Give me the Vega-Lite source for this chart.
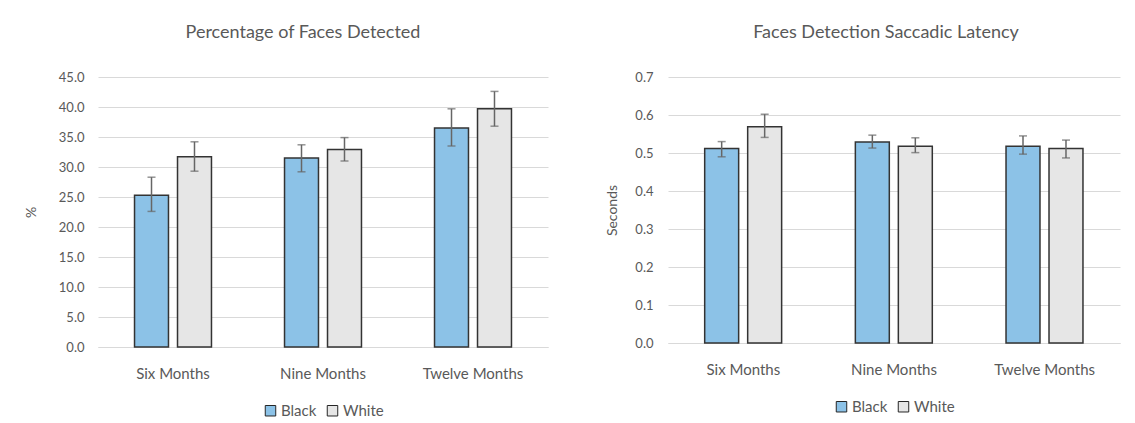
{
  "$schema": "https://vega.github.io/schema/vega-lite/v6.json",
  "padding": {"left": 24, "top": 24, "right": 5, "bottom": 5},
  "background": "white",
  "spacing": 57,
  "config": {
    "font": "Lato",
    "view": {"stroke": null},
    "title": {"fontSize": 18, "fontWeight": "normal", "color": "#595959", "font": "Lato", "offset": 29},
    "axis": {"labelColor": "#595959", "titleColor": "#595959", "labelFontSize": 13, "titleFontSize": 14, "titleFontWeight": "normal", "gridColor": "#d9d9d9", "domainColor": "#d9d9d9", "ticks": false},
    "legend": {"labelColor": "#595959", "labelFontSize": 15, "symbolType": "square", "symbolSize": 110, "symbolStrokeColor": "#262626", "symbolStrokeWidth": 1, "orient": "bottom", "direction": "horizontal", "title": null, "columnPadding": 8, "labelOffset": 3, "offset": 22, "layout": {"bottom": {"anchor": "middle"}}}
  },
  "datasets": {
    "pct": [
      {"group": "Six Months", "race": "Black", "value": 25.3, "lo": 22.6, "hi": 28.3},
      {"group": "Six Months", "race": "White", "value": 31.7, "lo": 29.3, "hi": 34.2},
      {"group": "Nine Months", "race": "Black", "value": 31.5, "lo": 29.2, "hi": 33.7},
      {"group": "Nine Months", "race": "White", "value": 32.9, "lo": 31.0, "hi": 34.9},
      {"group": "Twelve Months", "race": "Black", "value": 36.5, "lo": 33.5, "hi": 39.7},
      {"group": "Twelve Months", "race": "White", "value": 39.7, "lo": 36.8, "hi": 42.6}
    ],
    "lat": [
      {"group": "Six Months", "race": "Black", "value": 0.512, "lo": 0.490, "hi": 0.530},
      {"group": "Six Months", "race": "White", "value": 0.569, "lo": 0.541, "hi": 0.602},
      {"group": "Nine Months", "race": "Black", "value": 0.529, "lo": 0.513, "hi": 0.547},
      {"group": "Nine Months", "race": "White", "value": 0.518, "lo": 0.501, "hi": 0.540},
      {"group": "Twelve Months", "race": "Black", "value": 0.518, "lo": 0.497, "hi": 0.545},
      {"group": "Twelve Months", "race": "White", "value": 0.512, "lo": 0.487, "hi": 0.534}
    ]
  },
  "resolve": {"legend": {"color": "independent"}, "scale": {"y": "independent"}},
  "hconcat": [
    {
      "width": 450,
      "height": 270,
      "title": {"text": "Percentage of Faces Detected", "dx": -20},
      "data": {"name": "pct"},
      "encoding": {
        "x": {"field": "group", "type": "nominal", "sort": ["Six Months", "Nine Months", "Twelve Months"], "title": null,
              "scale": {"paddingInner": 0.487, "paddingOuter": 0.2435},
              "axis": {"labelAngle": 0, "labelPadding": 19, "labelFontSize": 15, "domain": true}},
        "xOffset": {"field": "race", "type": "nominal", "sort": ["Black", "White"], "scale": {"paddingInner": 0.21, "paddingOuter": 0}}
      },
      "layer": [
        {
          "mark": {"type": "bar", "stroke": "#333333", "strokeWidth": 1.5},
          "encoding": {
            "y": {"field": "value", "type": "quantitative", "title": "%",
                  "scale": {"domain": [0, 45], "nice": false},
                  "axis": {"values": [0, 5, 10, 15, 20, 25, 30, 35, 40, 45], "format": ".1f", "labelPadding": 14, "titlePadding": 20, "domain": false}},
            "color": {"field": "race", "type": "nominal", "scale": {"domain": ["Black", "White"], "range": ["#8cc2e7", "#e6e6e6"]}}
          }
        },
        {
          "mark": {"type": "rule", "color": "#666666", "strokeWidth": 1.5},
          "encoding": {"y": {"field": "lo", "type": "quantitative", "title": "%",
                  "axis": {"values": [0, 5, 10, 15, 20, 25, 30, 35, 40, 45], "format": ".1f", "labelPadding": 14, "titlePadding": 20, "domain": false}}, "y2": {"field": "hi"}}
        },
        {
          "mark": {"type": "tick", "color": "#666666", "orient": "horizontal", "size": 8, "thickness": 1.5},
          "encoding": {"y": {"field": "lo", "type": "quantitative", "title": "%",
                  "axis": {"values": [0, 5, 10, 15, 20, 25, 30, 35, 40, 45], "format": ".1f", "labelPadding": 14, "titlePadding": 20, "domain": false}}}
        },
        {
          "mark": {"type": "tick", "color": "#666666", "orient": "horizontal", "size": 8, "thickness": 1.5},
          "encoding": {"y": {"field": "hi", "type": "quantitative", "title": "%",
                  "axis": {"values": [0, 5, 10, 15, 20, 25, 30, 35, 40, 45], "format": ".1f", "labelPadding": 14, "titlePadding": 20, "domain": false}}}
        }
      ]
    },
    {
      "width": 452,
      "height": 266,
      "title": {"text": "Faces Detection Saccadic Latency", "dx": -8},
      "data": {"name": "lat"},
      "encoding": {
        "x": {"field": "group", "type": "nominal", "sort": ["Six Months", "Nine Months", "Twelve Months"], "title": null,
              "scale": {"paddingInner": 0.487, "paddingOuter": 0.2435},
              "axis": {"labelAngle": 0, "labelPadding": 19, "labelFontSize": 15, "domain": true}},
        "xOffset": {"field": "race", "type": "nominal", "sort": ["Black", "White"], "scale": {"paddingInner": 0.21, "paddingOuter": 0}}
      },
      "layer": [
        {
          "mark": {"type": "bar", "stroke": "#333333", "strokeWidth": 1.5},
          "encoding": {
            "y": {"field": "value", "type": "quantitative", "title": "Seconds",
                  "scale": {"domain": [0, 0.7], "nice": false},
                  "axis": {"values": [0, 0.1, 0.2, 0.3, 0.4, 0.5, 0.6, 0.7], "format": ".1f", "labelPadding": 15, "titlePadding": 15, "domain": false}},
            "color": {"field": "race", "type": "nominal", "scale": {"domain": ["Black", "White"], "range": ["#8cc2e7", "#e6e6e6"]}}
          }
        },
        {
          "mark": {"type": "rule", "color": "#666666", "strokeWidth": 1.5},
          "encoding": {"y": {"field": "lo", "type": "quantitative", "title": "Seconds",
                  "axis": {"values": [0, 0.1, 0.2, 0.3, 0.4, 0.5, 0.6, 0.7], "format": ".1f", "labelPadding": 15, "titlePadding": 15, "domain": false}}, "y2": {"field": "hi"}}
        },
        {
          "mark": {"type": "tick", "color": "#666666", "orient": "horizontal", "size": 8, "thickness": 1.5},
          "encoding": {"y": {"field": "lo", "type": "quantitative", "title": "Seconds",
                  "axis": {"values": [0, 0.1, 0.2, 0.3, 0.4, 0.5, 0.6, 0.7], "format": ".1f", "labelPadding": 15, "titlePadding": 15, "domain": false}}}
        },
        {
          "mark": {"type": "tick", "color": "#666666", "orient": "horizontal", "size": 8, "thickness": 1.5},
          "encoding": {"y": {"field": "hi", "type": "quantitative", "title": "Seconds",
                  "axis": {"values": [0, 0.1, 0.2, 0.3, 0.4, 0.5, 0.6, 0.7], "format": ".1f", "labelPadding": 15, "titlePadding": 15, "domain": false}}}
        }
      ]
    }
  ]
}
